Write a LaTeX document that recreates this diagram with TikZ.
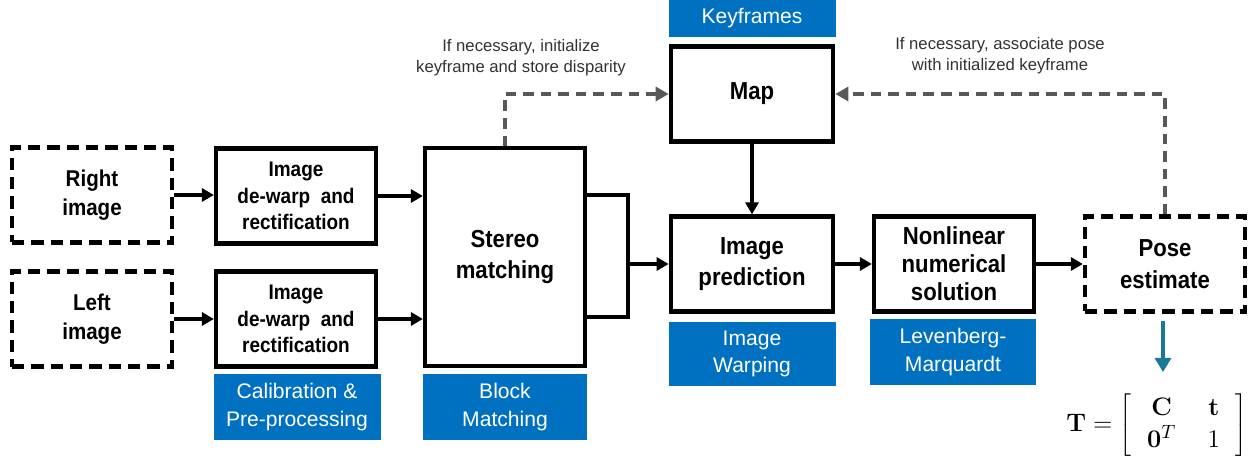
\documentclass[tikz,border=0pt]{standalone}
\usepackage[no-math]{fontspec}
\setmainfont{Liberation Sans}
\newfontfamily\boxfont[FakeStretch=0.9]{Liberation Sans}
\usetikzlibrary{arrows.meta}

\tikzset{
  procbox/.style = {draw, rectangle, line width = 2.4pt, align = center, font = \boxfont\bfseries\fontsize{12}{15}\selectfont},
  inbox/.style = {procbox, dashed, dash pattern = on 7pt off 4pt, font = \boxfont\bfseries\fontsize{13}{16.5}\selectfont},
  bluetag/.style = {rectangle, fill = myblue, text = white, align = center, inner sep = 0pt, font = \fontsize{12}{15.5}\selectfont},
  flow/.style = {line width = 2.2pt, -{Triangle[length = 2.4mm, width = 2.6mm]}},
  feedback/.style = {line width = 1.8pt, draw = mygray, dash pattern = on 6pt off 4pt, -{Triangle[length = 2.6mm, width = 2.8mm]}},
  note/.style = {align = center, text = mytext, font = \fontsize{9.5}{12}\selectfont}
}

\begin{document}
\begin{tikzpicture}[x = 0.2mm, y = -0.2mm]
        \useasboundingbox (0, 0) rectangle (1253, 460);
        \definecolor{myblue}{RGB}{0,112,192}
        \definecolor{mygray}{RGB}{88,88,90}
        \definecolor{mytext}{RGB}{50,50,50}
        \definecolor{myteal}{RGB}{22,122,150}

        % inputs
        \node[inbox, minimum width = 3.2cm, minimum height = 1.9cm] at (92, 195) (right) {Right\\image};
        \node[inbox, minimum width = 3.2cm, minimum height = 1.9cm] at (92, 319) (left) {Left\\image};

        % calibration and pre-processing
        \node[procbox, minimum width = 3.2cm, minimum height = 1.9cm] at (296, 196) (warp1) {Image\\de-warp~ and\\rectification};
        \node[procbox, minimum width = 3.2cm, minimum height = 1.9cm] at (296, 319) (warp2) {Image\\de-warp~ and\\rectification};
        \node[bluetag, minimum width = 3.34cm, minimum height = 1.3cm] at (297, 407) (calib) {Calibration \&\\Pre-processing};

        % stereo
        \node[procbox, minimum width = 3.2cm, minimum height = 4.35cm, font = \boxfont\bfseries\fontsize{14}{18}\selectfont] at (505, 257) (stereo) {Stereo\\matching};
        \node[bluetag, minimum width = 3.28cm, minimum height = 1.3cm] at (505, 407) (block) {Block\\Matching};

        % map and prediction
        \node[procbox, minimum width = 3.25cm, minimum height = 1.9cm, font = \boxfont\bfseries\fontsize{14}{18}\selectfont] at (752, 94) (map) {Map};
        \node[bluetag, minimum width = 3.34cm, minimum height = 0.74cm] at (752, 18.5) (keyf) {Keyframes};
        \node[procbox, minimum width = 3.25cm, minimum height = 1.9cm, font = \boxfont\bfseries\fontsize{14}{18}\selectfont] at (752, 264) (pred) {Image\\prediction};
        \node[bluetag, minimum width = 3.34cm, minimum height = 1.28cm] at (752, 354) (warping) {Image\\Warping};

        % solver and output
        \node[procbox, minimum width = 3.2cm, minimum height = 1.9cm, font = \boxfont\bfseries\fontsize{14}{16}\selectfont] at (954, 264) (nonlin) {Nonlinear\\numerical\\solution};
        \node[bluetag, minimum width = 3.32cm, minimum height = 1.3cm] at (953, 352) (lm) {Levenberg-\\Marquardt};
        \node[inbox, minimum width = 3.2cm, minimum height = 1.9cm, font = \boxfont\bfseries\fontsize{14}{18}\selectfont] at (1165, 264) (pose) {Pose\\estimate};

        \node[inner sep = 0pt, font = \fontsize{15}{18}\selectfont] at (1157, 425) (eq) {\setlength{\arraycolsep}{9pt}$\mathbf{T} = \left[\begin{array}{cc} \mathbf{C} & \mathbf{t} \\ \mathbf{0}^{T} & 1 \end{array}\right]$};

        % connectors
        \draw[flow] (right.east) -- (warp1.west |- right.east);
        \draw[flow] (left.east) -- (warp2.west |- left.east);
        \draw[flow] (warp1.east) -- (stereo.west |- warp1.east);
        \draw[flow] (warp2.east) -- (stereo.west |- warp2.east);

        \coordinate (jtop) at (628, 195);
        \coordinate (jbot) at (628, 317);
        \draw[line width = 2.2pt] (stereo.east |- jtop) -- (jtop) -- (jbot) -- (stereo.east |- jbot);
        \draw[flow] (jtop |- pred.west) -- (pred.west);

        \draw[flow] (map.south) -- (pred.north);
        \draw[flow] (pred.east) -- (nonlin.west);
        \draw[flow] (nonlin.east) -- (pose.west);

        \draw[feedback] (stereo.north) |- (map.west);
        \draw[feedback] (pose.north) |- (map.east);
        \node[note] at (521, 58) (n1) {If necessary, initialize\\keyframe and store disparity};
        \node[note] at (1000, 56) (n2) {If necessary, associate pose\\with initialized keyframe};

        \coordinate (eqtop) at (1163, 372);
        \draw[line width = 1.8pt, draw = myteal, -{Triangle[length = 2.8mm, width = 3.2mm]}, myteal] ([yshift = -1.5mm] pose.south -| eqtop) -- (eqtop);

      \end{tikzpicture}
\end{document}
